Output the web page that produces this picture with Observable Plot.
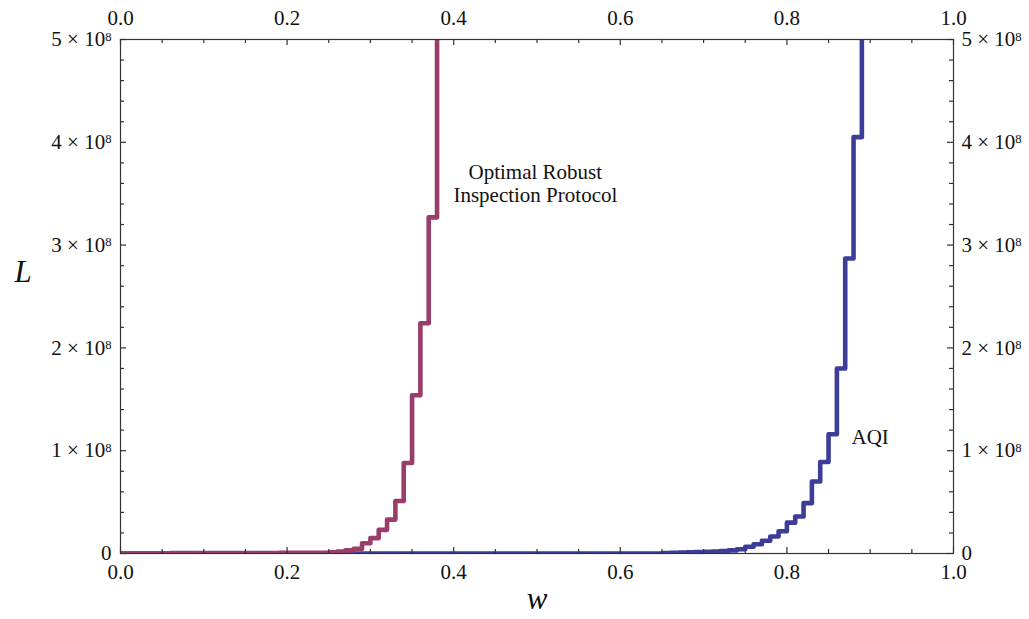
<!DOCTYPE html>
<html>
<head>
<meta charset="utf-8">
<script src="https://cdn.jsdelivr.net/npm/d3@7"></script>
<script src="https://cdn.jsdelivr.net/npm/@observablehq/plot@0.6"></script>
<style>
  html, body { margin: 0; padding: 0; background: #fff; }
</style>
</head>
<body>
<div id="chart"></div>
<script>
// ---- data (step breakpoints: value holds from w until the next w) ----
const robustW = [0, 0.06, 0.12, 0.19, 0.24, 0.25, 0.26, 0.27, 0.28, 0.29, 0.30, 0.31, 0.32, 0.33, 0.34, 0.35, 0.36, 0.37, 0.38];
const robustL = [0, 0.004e8, 0.005e8, 0.006e8, 0.007e8, 0.012e8, 0.02e8, 0.03e8, 0.045e8, 0.10e8, 0.15e8, 0.23e8, 0.33e8, 0.51e8, 0.88e8, 1.54e8, 2.24e8, 3.27e8, 6.5e8];

const aqiW = [0, 0.65, 0.66, 0.67, 0.68, 0.69, 0.70, 0.71, 0.72, 0.73, 0.74, 0.75, 0.76, 0.77, 0.78, 0.79, 0.80, 0.81, 0.82, 0.83, 0.84, 0.85, 0.86, 0.87, 0.88, 0.89];
const aqiL = [0, 0.005e8, 0.007e8, 0.009e8, 0.011e8, 0.013e8, 0.016e8, 0.019e8, 0.023e8, 0.03e8, 0.042e8, 0.065e8, 0.09e8, 0.124e8, 0.166e8, 0.217e8, 0.30e8, 0.36e8, 0.49e8, 0.70e8, 0.89e8, 1.16e8, 1.80e8, 2.87e8, 4.05e8, 6.0e8];

const xMajor = [0, 0.2, 0.4, 0.6, 0.8, 1.0];
const xMinor = [0.05, 0.1, 0.15, 0.25, 0.3, 0.35, 0.45, 0.5, 0.55, 0.65, 0.7, 0.75, 0.85, 0.9, 0.95];
const yMajor = [0, 1e8, 2e8, 3e8, 4e8, 5e8];
const yMinor = [0.2e8, 0.4e8, 0.6e8, 0.8e8, 1.2e8, 1.4e8, 1.6e8, 1.8e8, 2.2e8, 2.4e8, 2.6e8, 2.8e8, 3.2e8, 3.4e8, 3.6e8, 3.8e8, 4.2e8, 4.4e8, 4.6e8, 4.8e8];

const curveLabels = ["Optimal Robust\nInspection Protocol", "AQI"];
const curveLabelW = [0.498, 0.900];
const curveLabelL = [3.6e8, 1.14e8];

// ---- build tables ----
const robust = robustW.map((w, i) => ({w, L: robustL[i]}));
const aqi = aqiW.map((w, i) => ({w, L: aqiL[i]}));
const annos = curveLabels.map((t, i) => ({t, w: curveLabelW[i], L: curveLabelL[i]}));

const width = 1029, height = 619;
const mL = 120, mR = 76, mT = 39, mB = 66;
const PW = width - mL - mR, PH = height - mT - mB;
const blue = "#3d3d99", magenta = "#993d6b", ink = "#111";
const FS = 21;

const yFmt = d => d === 0 ? "0" : `${Math.round(d / 1e8)} × 10^8`;

const plot = Plot.plot({
  width, height,
  marginLeft: mL, marginRight: mR, marginTop: mT, marginBottom: mB,
  style: {fontFamily: "'Liberation Serif', 'Times New Roman', serif", fontSize: `${FS}px`, background: "#fff", color: ink},
  x: {domain: [0, 1]},
  y: {domain: [0, 5e8]},
  marks: [
    Plot.line(aqi, {x: "w", y: "L", curve: "step-after", stroke: blue, strokeWidth: 4.6, clip: true}),
    Plot.line(robust, {x: "w", y: "L", curve: "step-after", stroke: magenta, strokeWidth: 4.6, clip: true}),
    Plot.frame({stroke: "#333", strokeWidth: 1.2}),
    // inward ticks
    Plot.tickY(yMajor, {insetRight: PW - 6, stroke: "#333", strokeWidth: 1.2}),
    Plot.tickY(yMinor, {insetRight: PW - 4, stroke: "#333", strokeWidth: 1.2}),
    Plot.tickY(yMajor, {insetLeft: PW - 6, stroke: "#333", strokeWidth: 1.2}),
    Plot.tickY(yMinor, {insetLeft: PW - 4, stroke: "#333", strokeWidth: 1.2}),
    Plot.tickX(xMajor, {insetTop: PH - 6, stroke: "#333", strokeWidth: 1.2}),
    Plot.tickX(xMinor, {insetTop: PH - 4, stroke: "#333", strokeWidth: 1.2}),
    Plot.tickX(xMajor, {insetBottom: PH - 6, stroke: "#333", strokeWidth: 1.2}),
    Plot.tickX(xMinor, {insetBottom: PH - 4, stroke: "#333", strokeWidth: 1.2}),
    // tick labels
    Plot.axisX({anchor: "bottom", ticks: xMajor, tickSize: 0, tickPadding: 11, tickFormat: d3.format(".1f"), label: null, fontSize: FS, fill: ink}),
    Plot.axisX({anchor: "top", ticks: xMajor, tickSize: 0, tickPadding: 15, tickFormat: d3.format(".1f"), label: null, fontSize: FS, fill: ink}),
    Plot.axisY({anchor: "left", ticks: yMajor, tickSize: 0, tickPadding: 9, tickFormat: yFmt, label: null, fontSize: FS, fill: ink}),
    Plot.axisY({anchor: "right", ticks: yMajor, tickSize: 0, tickPadding: 8, tickFormat: yFmt, label: null, fontSize: FS, fill: ink}),
    // axis titles
    Plot.text(["L"], {frameAnchor: "left", dx: -106, dy: -24, fontSize: 31, fontStyle: "italic", fill: ink}),
    Plot.text(["w"], {frameAnchor: "bottom", dy: 55, fontSize: 31, fontStyle: "italic", fill: ink}),
    // curve labels
    Plot.text(annos, {x: "w", y: "L", text: "t", fontSize: FS, lineHeight: 1.1, fill: ink})
  ]
});

// render the exponent as a raised superscript
d3.select(plot).selectAll("text").each(function () {
  const el = d3.select(this);
  const s = el.text();
  const m = s.match(/^(\d+ × 10)\^(\d+)$/);
  if (m) {
    el.text(m[1]);
    el.append("tspan").attr("dy", "-0.45em").attr("font-size", "0.6em").text(m[2]);
  }
});

document.getElementById("chart").appendChild(plot);
</script>
</body>
</html>
